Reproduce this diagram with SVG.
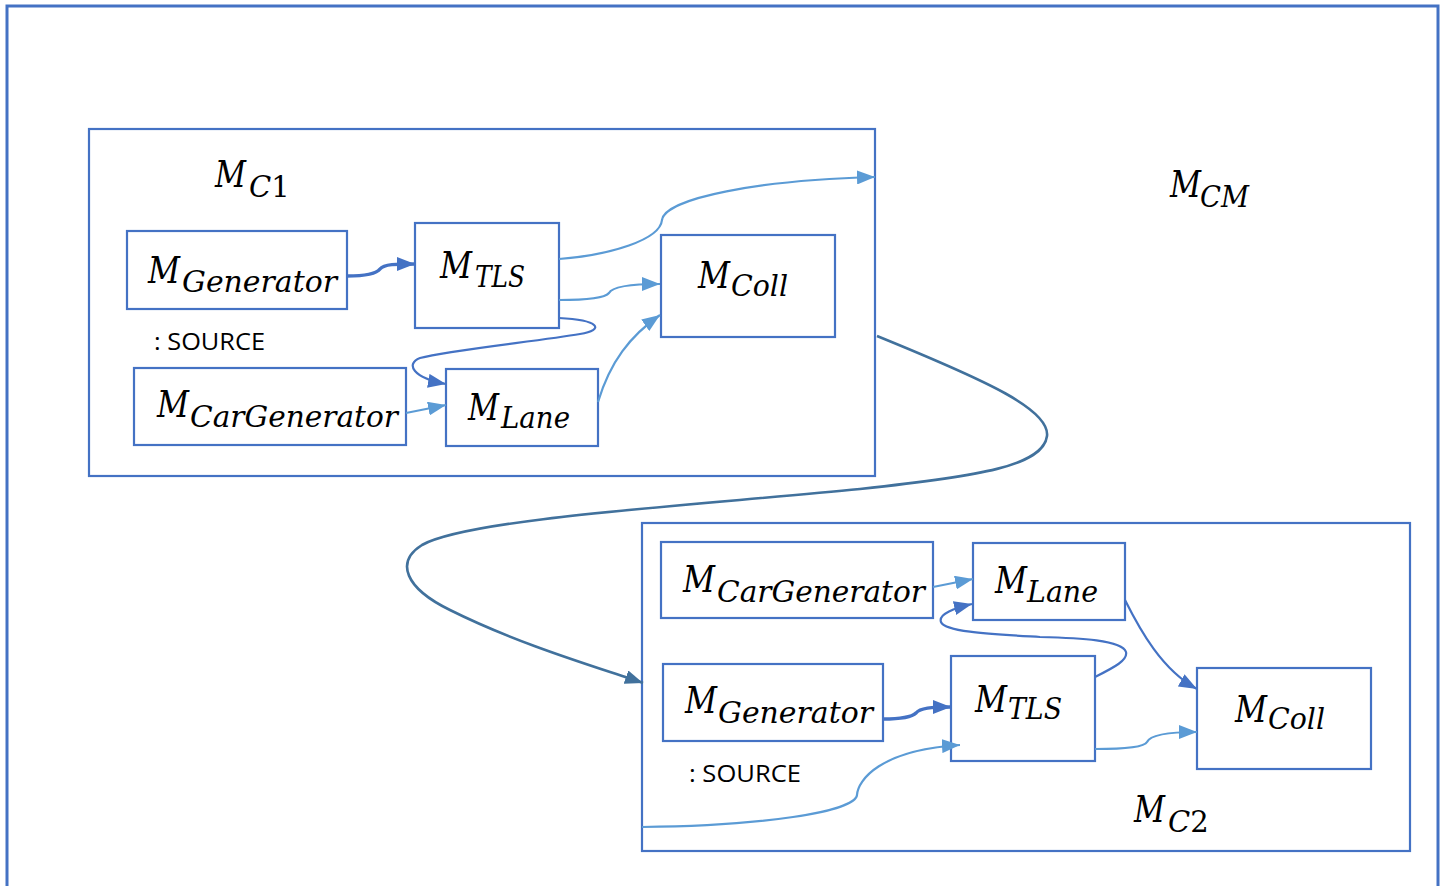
<svg xmlns="http://www.w3.org/2000/svg" width="1447" height="886" viewBox="0 0 1447 886">
  <style>
    .frame { fill: #ffffff; stroke: #4472C4; stroke-width: 3; }
    .box { fill: #ffffff; stroke: #4472C4; stroke-width: 2.2; }
    .cont { fill: none; stroke: #4472C4; stroke-width: 2.2; }
    .m { font-family: "DejaVu Serif", serif; font-style: italic; font-size: 38px; fill: #000; }
    .s { font-family: "DejaVu Serif", serif; font-style: italic; font-size: 29px; fill: #000; }
    .d { font-family: "DejaVu Serif", serif; font-style: normal; font-size: 29px; fill: #000; }
    .src { font-family: "Open Sans", "Liberation Sans", sans-serif; font-size: 23px; fill: #000; }
    .light { fill: none; stroke: #5B9BD5; stroke-width: 2.2; }
    .mid { fill: none; stroke: #4472C4; stroke-width: 2.2; }
    .thick { fill: none; stroke: #4472C4; stroke-width: 3.5; }
    .dark { fill: none; stroke: #41719C; stroke-width: 2.6; }
  </style>
  <defs>
    <marker id="aLight" markerUnits="userSpaceOnUse" markerWidth="20" markerHeight="14" refX="18" refY="7" orient="auto">
      <path d="M0,0 L18,7 L0,14 Z" fill="#5B9BD5"/>
    </marker>
    <marker id="aMid" markerUnits="userSpaceOnUse" markerWidth="20" markerHeight="14" refX="18" refY="7" orient="auto">
      <path d="M0,0 L18,7 L0,14 Z" fill="#4472C4"/>
    </marker>
    <marker id="aDark" markerUnits="userSpaceOnUse" markerWidth="20" markerHeight="14" refX="18" refY="7" orient="auto">
      <path d="M0,0 L18,7 L0,14 Z" fill="#41719C"/>
    </marker>
  </defs>

  <rect width="1447" height="886" fill="#ffffff"/>

  <!-- outer frame (M_CM) -->
  <g id="mcm">
    <rect class="frame" x="7" y="6" width="1431" height="900"/>
    <text class="m" x="1170" y="197"><tspan textLength="31" lengthAdjust="spacingAndGlyphs">M</tspan><tspan class="s" x="1200" y="207" textLength="49" lengthAdjust="spacingAndGlyphs">CM</tspan></text>
  </g>

  <!-- coupled model C1 -->
  <g id="mc1">
    <rect class="cont" x="89" y="129" width="786" height="347"/>
    <text class="m" x="215" y="187"><tspan textLength="31" lengthAdjust="spacingAndGlyphs">M</tspan><tspan class="s" x="249" y="197">C</tspan><tspan class="d">1</tspan></text>
  </g>

  <g id="c1-generator">
    <rect class="box" x="127" y="231" width="220" height="78"/>
    <text class="m" x="148" y="283"><tspan textLength="32" lengthAdjust="spacingAndGlyphs">M</tspan><tspan class="s" x="182" y="292" textLength="155" lengthAdjust="spacingAndGlyphs">Generator</tspan></text>
    <text class="src" x="154" y="350" textLength="111" lengthAdjust="spacingAndGlyphs">: SOURCE</text>
  </g>
  <g id="c1-tls">
    <rect class="box" x="415" y="223" width="144" height="105"/>
    <text class="m" x="440" y="278"><tspan textLength="32" lengthAdjust="spacingAndGlyphs">M</tspan><tspan class="s" x="475" y="287" textLength="50" lengthAdjust="spacingAndGlyphs">TLS</tspan></text>
  </g>
  <g id="c1-coll">
    <rect class="box" x="661" y="235" width="174" height="102"/>
    <text class="m" x="698" y="288"><tspan textLength="32" lengthAdjust="spacingAndGlyphs">M</tspan><tspan class="s" x="731" y="296" textLength="57" lengthAdjust="spacingAndGlyphs">Coll</tspan></text>
  </g>
  <g id="c1-cargenerator">
    <rect class="box" x="134" y="368" width="272" height="77"/>
    <text class="m" x="157" y="417"><tspan textLength="32" lengthAdjust="spacingAndGlyphs">M</tspan><tspan class="s" x="190" y="427" textLength="208" lengthAdjust="spacingAndGlyphs">CarGenerator</tspan></text>
  </g>
  <g id="c1-lane">
    <rect class="box" x="446" y="369" width="152" height="77"/>
    <text class="m" x="468" y="420"><tspan textLength="31" lengthAdjust="spacingAndGlyphs">M</tspan><tspan class="s" x="501" y="428" textLength="69" lengthAdjust="spacingAndGlyphs">Lane</tspan></text>
  </g>

  <!-- coupled model C2 -->
  <g id="mc2">
    <rect class="cont" x="642" y="523" width="768" height="328"/>
    <text class="m" x="1134" y="822"><tspan textLength="31" lengthAdjust="spacingAndGlyphs">M</tspan><tspan class="s" x="1168" y="832">C</tspan><tspan class="d">2</tspan></text>
  </g>

  <g id="c2-cargenerator">
    <rect class="box" x="661" y="542" width="272" height="76"/>
    <text class="m" x="683" y="592"><tspan textLength="32" lengthAdjust="spacingAndGlyphs">M</tspan><tspan class="s" x="717" y="602" textLength="208" lengthAdjust="spacingAndGlyphs">CarGenerator</tspan></text>
  </g>
  <g id="c2-lane">
    <rect class="box" x="973" y="543" width="152" height="77"/>
    <text class="m" x="995" y="593"><tspan textLength="32" lengthAdjust="spacingAndGlyphs">M</tspan><tspan class="s" x="1027" y="602" textLength="71" lengthAdjust="spacingAndGlyphs">Lane</tspan></text>
  </g>
  <g id="c2-generator">
    <rect class="box" x="663" y="664" width="220" height="77"/>
    <text class="m" x="685" y="713"><tspan textLength="32" lengthAdjust="spacingAndGlyphs">M</tspan><tspan class="s" x="718" y="723" textLength="155" lengthAdjust="spacingAndGlyphs">Generator</tspan></text>
    <text class="src" x="689" y="782" textLength="112" lengthAdjust="spacingAndGlyphs">: SOURCE</text>
  </g>
  <g id="c2-tls">
    <rect class="box" x="951" y="656" width="144" height="105"/>
    <text class="m" x="975" y="712"><tspan textLength="32" lengthAdjust="spacingAndGlyphs">M</tspan><tspan class="s" x="1008" y="719" textLength="54" lengthAdjust="spacingAndGlyphs">TLS</tspan></text>
  </g>
  <g id="c2-coll">
    <rect class="box" x="1197" y="668" width="174" height="101"/>
    <text class="m" x="1235" y="722"><tspan textLength="32" lengthAdjust="spacingAndGlyphs">M</tspan><tspan class="s" x="1268" y="729" textLength="57" lengthAdjust="spacingAndGlyphs">Coll</tspan></text>
  </g>

  <!-- couplings -->
  <g id="connectors">
    <!-- C1 internal -->
    <path class="thick" marker-end="url(#aMid)" d="M347,276 C368,276 377,273 380,269 C384,264 396,264 415,264"/>
    <path class="light" marker-end="url(#aLight)" d="M559,259 C610,255 660,240 662,220 C665,198 760,180 875,177"/>
    <path class="light" marker-end="url(#aLight)" d="M559,300 C590,300 605,298 609,293 C612,287 630,284 660,284"/>
    <path class="mid" marker-end="url(#aMid)" d="M559,318 C600,320 605,330 580,334 C540,341 450,350 420,358 C405,364 413,378 446,384"/>
    <path class="light" marker-end="url(#aLight)" d="M406,413 L446,405"/>
    <path class="light" marker-end="url(#aLight)" d="M598,402 C610,362 630,336 660,315"/>

    <!-- C1 to C2 -->
    <path class="dark" marker-end="url(#aDark)" d="M877,336 C990,382 1050,410 1047,436 C1043,466 980,476 860,489 C700,505 470,518 422,545 C395,562 405,588 450,610 C520,645 600,668 643,683"/>

    <!-- C2 internal -->
    <path class="light" marker-end="url(#aLight)" d="M933,587 L973,579"/>
    <path class="thick" marker-end="url(#aMid)" d="M883,719 C904,719 913,716 916,713 C920,708 931,707 951,707"/>
    <path class="mid" marker-end="url(#aMid)" d="M1095,677 C1115,667 1128,660 1126,652 C1122,640 1080,638 1040,637 C990,634 945,632 941,622 C938,614 955,608 972,604"/>
    <path class="mid" marker-end="url(#aMid)" d="M1125,600 C1140,630 1162,670 1197,689"/>
    <path class="light" marker-end="url(#aLight)" d="M1095,749 C1130,749 1145,746 1147,742 C1150,735 1170,732 1197,732"/>
    <path class="light" marker-end="url(#aLight)" d="M642,827 C760,826 855,812 857,795 C858,780 880,750 960,745"/>
  </g>
</svg>
